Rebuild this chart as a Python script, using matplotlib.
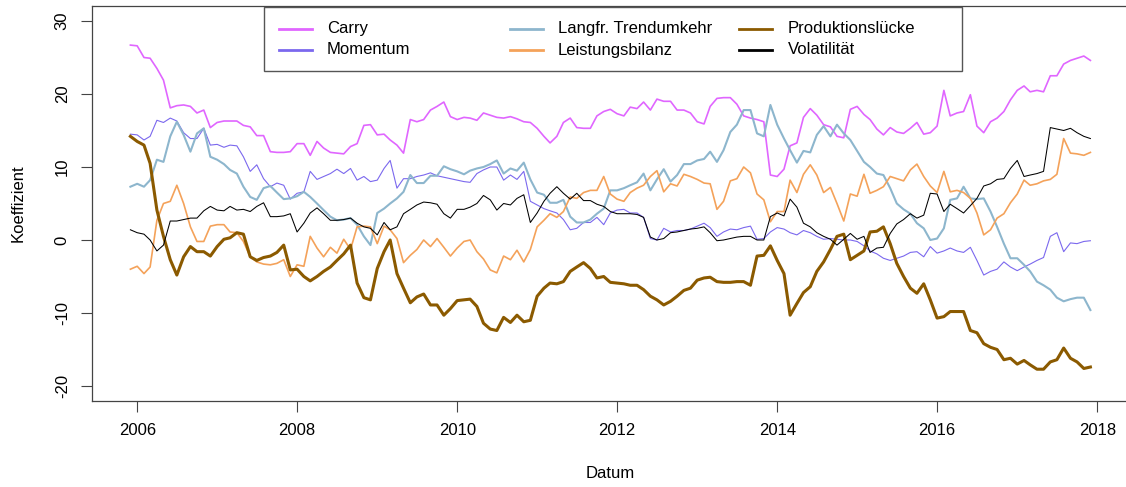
import matplotlib
matplotlib.use("Agg")
import matplotlib.pyplot as plt
import matplotlib.dates as mdates
from matplotlib.patches import Rectangle
import pandas as pd

plt.rcParams['font.family'] = ['Liberation Sans', 'DejaVu Sans']
plt.rcParams['axes.unicode_minus'] = False

# monthly coefficients, Dec 2005 - Dec 2017
dates = pd.date_range("2005-12-01", periods=145, freq="MS")

carry = [26.7, 26.6, 25.0, 24.9, 23.5, 21.9, 18.1, 18.4, 18.5, 18.3, 17.4, 17.8,
         15.4, 16.1, 16.3, 16.3, 16.3, 15.7, 15.5, 14.3, 14.3, 12.1, 12.0, 12.0,
         12.1, 13.2, 13.2, 11.6, 13.5, 12.6, 12.0, 11.9, 11.8, 12.8, 13.2, 15.7,
         15.8, 14.4, 14.5, 13.7, 13.0, 11.9, 16.5, 16.2, 16.5, 17.8, 18.3, 18.9,
         16.9, 16.5, 16.8, 16.7, 16.4, 17.4, 17.1, 16.8, 16.7, 16.9, 16.6, 16.2,
         16.1, 15.3, 14.2, 13.3, 14.2, 16.1, 16.7, 15.4, 15.3, 15.3, 17.0, 17.6,
         17.9, 17.3, 17.0, 18.2, 18.0, 18.9, 17.8, 19.3, 19.0, 19.0, 17.8, 17.8,
         17.4, 16.2, 15.9, 18.3, 19.4, 19.5, 19.5, 18.6, 17.0, 16.7, 16.5, 16.2,
         8.9, 8.7, 9.7, 12.9, 13.3, 16.8, 18.0, 17.1, 15.8, 15.5, 14.2, 14.0,
         17.9, 18.3, 17.2, 16.5, 15.2, 14.4, 15.4, 14.8, 14.6, 15.3, 16.1, 14.5,
         14.7, 15.6, 20.5, 17.0, 17.4, 17.6, 19.9, 15.6, 14.7, 16.2, 16.7, 17.6,
         19.2, 20.5, 21.1, 20.3, 20.5, 20.3, 22.5, 22.5, 24.1, 24.6, 24.9, 25.2,
         24.6]

momentum = [14.5, 14.4, 13.7, 14.2, 16.4, 16.1, 16.7, 16.3, 14.7, 13.9, 13.9, 15.3,
            13.0, 13.1, 12.7, 13.0, 12.9, 11.4, 9.4, 10.3, 8.4, 7.3, 7.8, 7.5,
            5.6, 6.4, 6.6, 9.4, 8.3, 8.7, 9.1, 9.7, 9.1, 9.8, 8.2, 8.7,
            8.0, 8.2, 9.8, 10.9, 7.1, 8.4, 8.4, 8.7, 8.9, 9.2, 8.8, 8.6,
            8.4, 8.2, 8.0, 7.9, 9.1, 9.6, 10.0, 10.0, 8.2, 8.9, 8.3, 9.4,
            5.3, 4.8, 4.3, 4.0, 3.7, 2.8, 1.4, 1.6, 2.4, 2.4, 3.1, 2.1,
            3.7, 4.1, 4.2, 3.7, 3.7, 3.1, 0.2, 0.0, 1.6, 1.1, 1.3, 1.3,
            1.5, 1.9, 2.3, 1.7, 0.5, 1.1, 1.5, 1.4, 1.7, 1.9, 0.1, 0.2,
            1.1, 1.7, 1.5, 1.0, 0.7, 1.3, 1.0, 0.5, 0.1, 0.2, 0.1, 0.0,
            0.0, -0.2, -0.8, -1.5, -1.9, -2.5, -2.8, -2.5, -2.2, -1.7, -1.6, -2.3,
            -0.9, -1.8, -1.5, -1.1, -1.5, -1.7, -1.0, -2.8, -4.8, -4.3, -4.0, -3.0,
            -3.7, -4.2, -3.7, -3.3, -2.8, -2.4, 0.5, 1.0, -1.6, -0.4, -0.5, -0.2,
            -0.1]

trendumkehr = [7.3, 7.7, 7.3, 8.2, 11.0, 10.7, 14.2, 16.2, 14.4, 12.1, 14.6, 15.3,
               11.4, 11.0, 10.4, 9.6, 9.1, 7.3, 5.9, 5.5, 7.1, 7.4, 6.5, 5.6,
               5.7, 6.0, 6.6, 5.9, 5.0, 4.1, 3.2, 2.7, 2.8, 3.0, 2.1, 0.5,
               -0.7, 3.7, 4.3, 5.0, 5.7, 6.6, 8.9, 7.8, 7.8, 8.8, 8.8, 10.1,
               9.7, 9.4, 9.0, 9.5, 9.8, 10.0, 10.4, 10.9, 9.1, 9.8, 9.5, 10.6,
               8.3, 6.5, 6.2, 5.1, 5.1, 5.5, 3.2, 2.4, 2.4, 2.8, 3.6, 4.3,
               6.8, 6.8, 7.1, 7.5, 7.9, 9.1, 6.8, 8.3, 9.7, 8.0, 8.9, 10.4,
               10.4, 10.9, 11.1, 12.1, 10.7, 12.3, 14.8, 15.8, 17.8, 17.8, 14.6, 14.2,
               18.5, 15.8, 13.9, 12.3, 10.6, 12.2, 12.0, 14.4, 15.6, 14.2, 15.8, 14.6,
               13.7, 12.2, 10.7, 10.0, 9.1, 8.9, 7.1, 5.0, 4.2, 3.6, 2.3, 1.6,
               0.0, 0.2, 1.6, 5.5, 5.7, 7.3, 5.7, 5.6, 5.7, 3.9, 1.8, -0.5,
               -2.5, -2.5, -3.4, -4.3, -5.7, -6.2, -6.8, -7.9, -8.4, -8.1, -7.9, -7.9,
               -9.6]

leistungsbilanz = [-4.0, -3.6, -4.6, -3.7, 2.7, 5.0, 5.3, 7.5, 5.0, 1.8, -0.2, -0.2,
                   1.9, 2.1, 2.1, 1.1, 1.0, -0.2, -2.3, -3.0, -3.3, -3.4, -3.2, -2.7,
                   -5.0, -3.4, -3.6, 0.5, -1.1, -2.3, -1.0, -1.8, 0.1, -1.3, 1.8, 1.9,
                   1.8, -0.5, 1.9, 1.4, 0.2, -3.1, -2.1, -1.3, 0.0, -0.9, 0.2, -1.0,
                   -2.2, -1.1, -0.2, 0.0, -1.6, -2.6, -4.1, -4.5, -2.2, -2.7, -1.4, -3.0,
                   -1.3, 1.8, 2.7, 3.6, 3.1, 3.9, 5.9, 5.7, 6.5, 6.8, 6.8, 8.7,
                   6.3, 5.6, 5.3, 6.5, 7.1, 7.5, 8.7, 9.5, 6.6, 7.7, 7.4, 9.0,
                   8.7, 8.3, 7.8, 7.7, 4.2, 5.3, 8.1, 8.4, 10.0, 9.2, 6.3, 5.5,
                   2.5, 3.9, 3.9, 8.2, 6.5, 9.0, 10.3, 8.9, 6.5, 7.2, 5.0, 2.6,
                   6.3, 6.0, 9.0, 6.4, 6.8, 7.3, 8.7, 8.4, 8.1, 9.6, 10.4, 8.7,
                   7.4, 6.5, 9.4, 6.6, 6.8, 6.5, 5.7, 3.7, 0.7, 1.4, 3.0, 3.6,
                   5.1, 6.3, 8.2, 7.5, 7.7, 8.1, 8.3, 9.0, 13.9, 11.9, 11.8, 11.6,
                   12.0]

produktionsluecke = [14.2, 13.5, 13.0, 10.5, 4.1, 0.5, -2.7, -4.8, -2.3, -0.9, -1.6, -1.6,
                     -2.2, -0.9, 0.1, 0.3, 1.0, 0.8, -2.3, -2.8, -2.4, -2.2, -1.7, -0.7,
                     -4.1, -4.0, -5.0, -5.6, -5.0, -4.3, -3.7, -2.8, -1.9, -0.7, -5.9, -7.9,
                     -8.2, -3.9, -1.6, 0.0, -4.6, -6.6, -8.6, -7.8, -7.4, -8.9, -8.9, -10.3,
                     -9.4, -8.3, -8.2, -8.1, -9.1, -11.4, -12.2, -12.4, -10.6, -11.3, -10.3, -11.2,
                     -11.0, -7.7, -6.6, -5.9, -6.0, -5.7, -4.3, -3.7, -3.1, -3.9, -5.2, -5.0,
                     -5.8, -5.9, -6.0, -6.2, -6.2, -6.8, -7.7, -8.2, -8.9, -8.4, -7.7, -6.9,
                     -6.6, -5.5, -5.2, -5.1, -5.7, -5.8, -5.8, -5.7, -5.7, -6.2, -2.2, -2.1,
                     -0.8, -2.8, -4.6, -10.3, -8.7, -7.2, -6.4, -4.3, -3.0, -1.3, 0.5, 0.8,
                     -2.7, -2.1, -1.5, 1.1, 1.2, 1.8, -0.5, -3.2, -5.0, -6.6, -7.3, -6.0,
                     -8.2, -10.7, -10.5, -9.8, -9.8, -9.8, -12.4, -12.7, -14.2, -14.7, -15.0, -16.4,
                     -16.2, -17.0, -16.5, -17.1, -17.7, -17.7, -16.7, -16.4, -14.8, -16.2, -16.7, -17.6,
                     -17.4]

volatilitaet = [1.4, 1.0, 0.8, 0.0, -1.5, -0.7, 2.6, 2.6, 2.8, 3.0, 3.0, 4.0,
                4.6, 4.1, 4.0, 4.6, 4.1, 4.2, 3.9, 4.6, 5.1, 3.2, 3.2, 3.3,
                3.6, 1.1, 2.3, 3.7, 4.4, 3.6, 2.7, 2.7, 2.8, 3.0, 2.3, 1.8,
                1.6, 0.7, 2.4, 1.4, 1.8, 3.6, 4.2, 4.8, 5.2, 5.1, 4.9, 3.6,
                3.0, 4.2, 4.2, 4.5, 5.0, 6.1, 5.5, 4.1, 5.0, 4.8, 5.7, 6.2,
                2.4, 3.7, 5.3, 6.4, 7.3, 6.4, 5.6, 6.4, 5.4, 5.4, 4.9, 4.6,
                3.9, 3.6, 3.6, 3.6, 3.5, 3.1, 0.4, 0.0, 0.2, 1.0, 1.1, 1.3,
                1.5, 1.6, 1.8, 1.0, -0.1, 0.0, 0.2, 0.4, 0.5, 0.5, 0.0, 0.0,
                3.2, 3.7, 3.3, 5.6, 4.5, 2.3, 1.8, 1.0, 0.5, 0.1, -0.7, 0.1,
                0.9, 0.1, 0.5, -1.7, -1.1, -1.0, 0.9, 2.2, 2.8, 3.6, 3.0, 3.4,
                6.4, 6.3, 3.9, 4.9, 4.3, 3.7, 4.7, 5.7, 7.4, 7.7, 8.3, 8.4,
                9.8, 10.9, 8.7, 8.9, 9.1, 9.4, 15.4, 15.2, 15.0, 15.3, 14.7, 14.2,
                13.9]

labels = ["Carry", "Momentum", "Langfr. Trendumkehr", "Leistungsbilanz",
          "Produktionslücke", "Volatilität"]
series = [carry, momentum, trendumkehr, leistungsbilanz, produktionsluecke, volatilitaet]
colors = ["#E066FF", "#7B68EE", "#8DB6CD", "#F4A25A", "#8B5A00", "black"]
widths = [1.2, 0.8, 1.5, 1.2, 2.2, 0.75]

W, H = 1126, 487
fig = plt.figure(figsize=(W / 100, H / 100), dpi=100)
ax = fig.add_axes([92 / W, 1 - 400.6 / H, 1036.8 / W, 394.2 / H])

for vals, c, lw in zip(series, colors, widths):
    ax.plot(dates, vals, color=c, lw=lw)

# R-style 4% padding of the data range
span = dates[-1] - dates[0]
ax.set_xlim(dates[0] - span * 0.04, dates[-1] + span * 0.04)
ax.set_ylim(-22, 32)
ax.set_yticks([-20, -10, 0, 10, 20, 30])
ax.xaxis.set_major_locator(mdates.YearLocator(2))
ax.xaxis.set_major_formatter(mdates.DateFormatter("%Y"))

for sp in ax.spines.values():
    sp.set_color("#444444")
    sp.set_linewidth(0.9)
ax.tick_params(direction="out", length=8, width=0.8, color="#444444",
               labelsize=12, pad=8)
ax.tick_params(axis="y", labelrotation=90)
for lbl in ax.get_yticklabels():
    lbl.set_va("center")

fig.text(18 / W, 1 - 203.5 / H, "Koeffizient", rotation=90, ha="center",
         va="center", fontsize=12)
fig.text(610 / W, 1 - 473 / H, "Datum", ha="center", va="center", fontsize=12)


# legend drawn R-style with equal column widths (pixel positions)
def px(x, y):
    return x / W, 1 - y / H


x0, y0 = px(264, 71)
fig.patches.append(Rectangle((x0, y0), (962 - 264) / W, (71 - 7) / H,
                             transform=fig.transFigure, facecolor="white",
                             edgecolor="#555555", lw=1.0, zorder=5))
col_line = [279, 510, 739]
col_text = [327, 558, 788]
rows = [28.5, 50]
for i, (lab, c) in enumerate(zip(labels, colors)):
    col, row = i // 2, i % 2
    xa, ya = px(col_line[col], rows[row])
    xb, _ = px(col_line[col] + 33, rows[row])
    fig.add_artist(plt.Line2D([xa, xb], [ya, ya], color=c, lw=2,
                              transform=fig.transFigure, zorder=6))
    xt, yt = px(col_text[col], rows[row])
    fig.text(xt, yt, lab, ha="left", va="center", fontsize=12, zorder=6)

fig.savefig("out.png", dpi=100)
